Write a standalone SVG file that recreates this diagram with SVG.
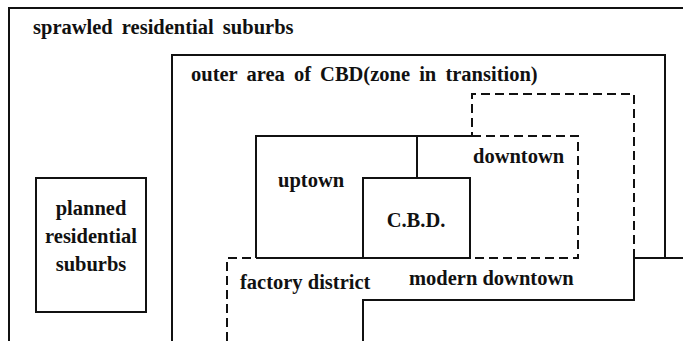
<svg xmlns="http://www.w3.org/2000/svg" width="683" height="341" viewBox="0 0 683 341">
<style>
.s{fill:none;stroke:#111;stroke-width:2}
.d{fill:none;stroke:#111;stroke-width:2;stroke-dasharray:9 5}
.t{font-family:"Liberation Serif","DejaVu Serif","Times New Roman",serif;font-size:20.5px;font-weight:bold;fill:#111}
.w{word-spacing:4px}
</style>
<rect width="683" height="341" fill="#fff"/>
<g id="sprawled">
<path class="s" d="M9,341 V8 H683"/>
<text class="t w" x="33" y="34">sprawled residential suburbs</text>
</g>
<g id="planned">
<rect class="s" x="36" y="178" width="110" height="134"/>
<text class="t" x="91" y="215" text-anchor="middle">planned</text>
<text class="t" x="91" y="243" text-anchor="middle">residential</text>
<text class="t" x="91" y="271" text-anchor="middle">suburbs</text>
</g>
<g id="outer-area">
<path class="s" d="M172,341 V55 H665 V258"/>
<path class="s" d="M634,258 H683"/>
<text class="t w" x="191" y="81">outer area of CBD(zone in transition)</text>
</g>
<g id="modern-downtown">
<path class="d" d="M634,258 V94 H472 V136"/>
<path class="s" d="M634,258 V300 H363 V341"/>
<text class="t" x="409" y="285">modern downtown</text>
</g>
<g id="downtown">
<path class="d" d="M472,136 H578 V258 H470"/>
<text class="t" x="473" y="163">downtown</text>
</g>
<g id="uptown">
<path class="s" d="M256,258 V136 H472"/>
<path class="s" d="M417,136 V178"/>
<text class="t" x="278" y="187">uptown</text>
</g>
<g id="cbd">
<rect class="s" x="363" y="178" width="107" height="80"/>
<path class="s" d="M256,258 H363"/>
<text class="t" x="416" y="227" text-anchor="middle">C.B.D.</text>
</g>
<g id="factory">
<path class="d" d="M227,341 V258 H256"/>
<text class="t" x="240" y="289">factory district</text>
</g>
</svg>
